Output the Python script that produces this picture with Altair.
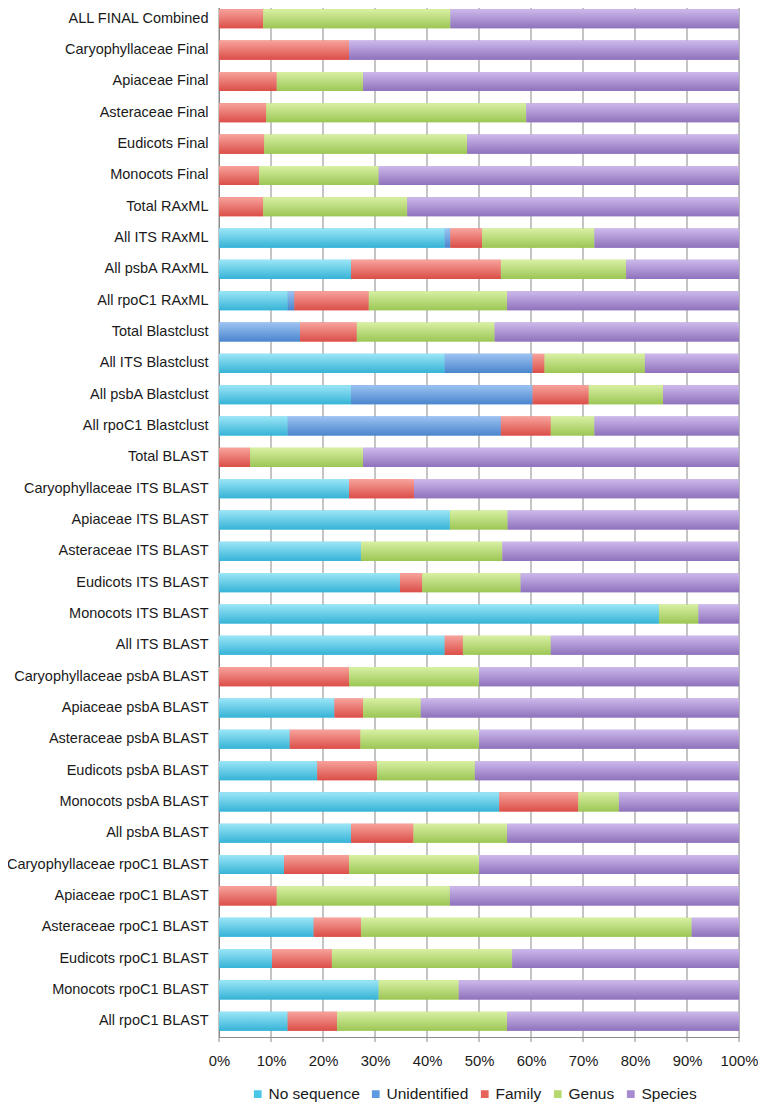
import altair as alt
import pandas as pd

categories = [
    "ALL FINAL Combined", "Caryophyllaceae Final", "Apiaceae Final", "Asteraceae Final",
    "Eudicots Final", "Monocots Final", "Total RAxML", "All ITS RAxML", "All psbA RAxML",
    "All rpoC1 RAxML", "Total Blastclust", "All ITS Blastclust", "All psbA Blastclust",
    "All rpoC1 Blastclust", "Total BLAST", "Caryophyllaceae ITS BLAST", "Apiaceae ITS BLAST",
    "Asteraceae ITS BLAST", "Eudicots ITS BLAST", "Monocots ITS BLAST", "All ITS BLAST",
    "Caryophyllaceae psbA BLAST", "Apiaceae psbA BLAST", "Asteraceae psbA BLAST",
    "Eudicots psbA BLAST", "Monocots psbA BLAST", "All psbA BLAST",
    "Caryophyllaceae rpoC1 BLAST", "Apiaceae rpoC1 BLAST", "Asteraceae rpoC1 BLAST",
    "Eudicots rpoC1 BLAST", "Monocots rpoC1 BLAST", "All rpoC1 BLAST ",
]

no_sequence = [0, 0, 0, 0, 0, 0, 0, 43.4, 25.4, 13.2, 0, 43.4, 25.4, 13.2, 0, 25.0, 44.4,
               27.3, 34.8, 84.6, 43.4, 0, 22.2, 13.6, 18.9, 53.9, 25.4, 12.5, 0, 18.2, 10.2,
               30.7, 13.2]
unidentified = [0, 0, 0, 0, 0, 0, 0, 1.1, 0, 1.3, 15.6, 16.9, 34.9, 41.0, 0, 0, 0, 0, 0, 0,
                0, 0, 0, 0, 0, 0, 0, 0, 0, 0, 0, 0, 0]
family = [8.5, 25.0, 11.1, 9.1, 8.7, 7.7, 8.5, 6.1, 28.8, 14.3, 10.9, 2.3, 10.8, 9.6, 6.0,
          12.5, 0, 0, 4.3, 0, 3.5, 25.0, 5.5, 13.6, 11.5, 15.2, 12.0, 12.5, 11.1, 9.1, 11.5,
          0, 9.5]
genus = [36.0, 0, 16.6, 50.0, 39.0, 23.0, 27.7, 21.6, 24.1, 26.6, 26.5, 19.3, 14.3, 8.4,
         21.7, 0, 11.1, 27.2, 18.9, 7.6, 16.9, 25.0, 11.1, 22.8, 18.8, 7.8, 18.0, 25.0, 33.3,
         63.6, 34.7, 15.4, 32.7]
species = [55.5, 75.0, 72.3, 40.9, 52.3, 69.3, 63.8, 27.8, 21.7, 44.6, 47.0, 18.1, 14.6,
           27.8, 72.3, 62.5, 44.5, 45.5, 42.0, 7.8, 36.2, 50.0, 61.2, 50.0, 50.8, 23.1, 44.6,
           50.0, 55.6, 9.1, 43.6, 53.9, 44.6]

x_ticks = [0, 0.1, 0.2, 0.3, 0.4, 0.5, 0.6, 0.7, 0.8, 0.9, 1.0]

series_names = ["No sequence", "Unidentified", "Family", "Genus", "Species"]
series_values = [no_sequence, unidentified, family, genus, species]
series_colors = ["#4CC6E6", "#5C9BE0", "#E8625C", "#B5D96C", "#A68BD0"]
series_light = ["#9BE6F7", "#9CC3F2", "#F7A39C", "#D8F0A3", "#CDB9EC"]
series_dark = ["#36B3D6", "#4A85CC", "#DB4E48", "#9CC655", "#8F72BC"]

rows = []
for si, (name, vals) in enumerate(zip(series_names, series_values)):
    for cat, v in zip(categories, vals):
        rows.append({"category": cat, "series": name, "order": si, "value": v})
df = pd.DataFrame(rows)
grid_df = pd.DataFrame({"gx": x_ticks})

FONT = "Liberation Sans"
GRID = "#8a8a8a"
H = 1034
W = 520

base = alt.Chart(df).transform_stack(
    stack="value", groupby=["category"], as_=["x0", "x1"],
    sort=[alt.SortField("order", order="ascending")], offset="normalize",
)

y_enc = alt.Y(
    "category:N", sort=categories, title=None,
    scale=alt.Scale(paddingInner=0.39, paddingOuter=0.2),
    axis=alt.Axis(labelFontSize=14.5, labelColor="#1a1a1a", labelFont=FONT, ticks=False,
                  labelPadding=11, domainColor=GRID, labelLimit=300, grid=False),
)
x_scale = alt.Scale(domain=[0, 1], nice=False)
x_enc = alt.X(
    "x0:Q", title=None, scale=x_scale,
    axis=alt.Axis(format=".0%", values=x_ticks, labelFontSize=14.8,
                  labelFont=FONT, labelColor="#1a1a1a", grid=False, ticks=False,
                  labelPadding=16, domainColor=GRID, labelOverlap=False, labelFlush=False),
)

# flat-coloured bars (carry the legend), drawn first
legend_layer = base.mark_bar().encode(
    y=y_enc, x=x_enc, x2="x1:Q",
    color=alt.Color(
        "series:N", sort=series_names,
        scale=alt.Scale(domain=series_names, range=series_colors),
        legend=alt.Legend(
            title=None, orient="none", direction="horizontal", legendX=31, legendY=1083,
            symbolType="square", symbolSize=60, symbolStrokeWidth=0, labelFontSize=15.5,
            labelFont=FONT, labelColor="#1a1a1a", columnPadding=8, labelOffset=3,
        ),
    ),
)

# vertical grid lines, then the gradient bars on top so the lines only show between bars
grid_layer = alt.Chart(grid_df).mark_rule(color=GRID, strokeWidth=1).encode(
    x=alt.X("gx:Q", scale=x_scale, title=None),
    y=alt.value(0), y2=alt.value(H + 5),
)

layers = [legend_layer, grid_layer]
for name, light, dark in zip(series_names, series_light, series_dark):
    grad = alt.Gradient(
        gradient="linear", x1=0, x2=0, y1=0, y2=1,
        stops=[alt.GradientStop(color=light, offset=0),
               alt.GradientStop(color=dark, offset=1)],
    )
    layers.append(
        base.transform_filter(alt.datum.series == name)
        .mark_bar(color=grad)
        .encode(y=y_enc, x=x_enc, x2="x1:Q")
    )

chart = alt.layer(*layers).properties(
    width=W, height=H,
    autosize=alt.AutoSizeParams(type="none"),
    padding={"left": 211, "top": -5, "right": 19, "bottom": 70},
).configure_view(stroke=None).configure(background="white")

chart.save("out.html", embed_options={"renderer": "svg", "actions": False})
